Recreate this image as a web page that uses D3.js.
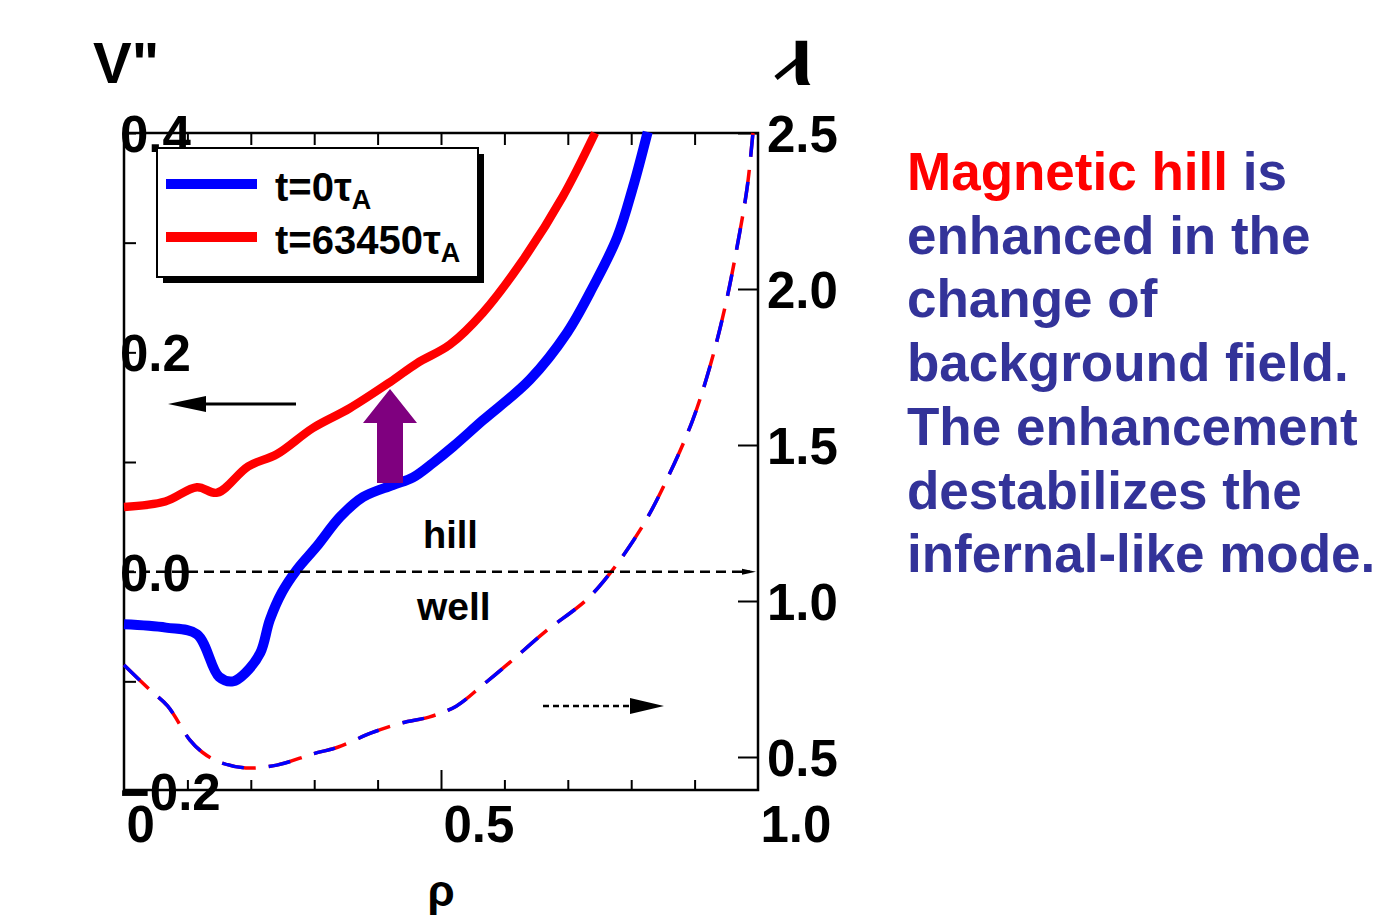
<!DOCTYPE html>
<html>
<head>
<meta charset="utf-8">
<script src="https://cdn.jsdelivr.net/npm/d3@7"></script>
<style>
  body { margin: 0; background: #fff; }
  text { font-family: "Liberation Sans", Arial, sans-serif; font-weight: bold; }
</style>
</head>
<body>
<script>
// V'' at t=0 (blue) and t=63450 (red), rho on x
const rhoBlue = [0, 0.066, 0.115, 0.150, 0.172, 0.192, 0.215, 0.230, 0.249, 0.273, 0.304, 0.341, 0.377, 0.424, 0.456, 0.487, 0.519, 0.566, 0.640, 0.699, 0.740, 0.778, 0.803, 0.826];
const vBlue   = [-0.048, -0.051, -0.057, -0.096, -0.100, -0.092, -0.074, -0.044, -0.019, 0.002, 0.023, 0.050, 0.068, 0.079, 0.086, 0.099, 0.114, 0.138, 0.175, 0.218, 0.260, 0.305, 0.351, 0.401];

const rhoRed = [0, 0.065, 0.115, 0.147, 0.196, 0.241, 0.298, 0.356, 0.420, 0.462, 0.514, 0.566, 0.629, 0.692, 0.743];
const vRed   = [0.059, 0.064, 0.077, 0.072, 0.096, 0.107, 0.131, 0.149, 0.173, 0.190, 0.207, 0.236, 0.284, 0.342, 0.400];

// rotational transform (both times overlap)
const rhoIota = [0, 0.041, 0.069, 0.104, 0.123, 0.150, 0.192, 0.241, 0.298, 0.338, 0.390, 0.438, 0.481, 0.524, 0.566, 0.609, 0.664, 0.729, 0.767, 0.819, 0.861, 0.897, 0.924, 0.948, 0.967, 0.983, 0.992];
const iota    = [0.795, 0.715, 0.663, 0.554, 0.516, 0.484, 0.465, 0.474, 0.510, 0.532, 0.577, 0.609, 0.628, 0.663, 0.731, 0.804, 0.901, 1.003, 1.090, 1.244, 1.410, 1.580, 1.750, 1.942, 2.135, 2.327, 2.500];

const leftLabels = [0.4, 0.2, 0.0, -0.2];
const leftMinor = [-0.1, 0.1, 0.3];
const rightLabels = [0.5, 1.0, 1.5, 2.0, 2.5];
const bottomLabels = [0, 0.5, 1.0];
const xMinor = [0.1, 0.2, 0.3, 0.4, 0.5, 0.6, 0.7, 0.8, 0.9];

const legendNames = ["t=0", "t=63450"];
const legendColors = ["#0000ff", "#ff0000"];

const noteLines = [
  [["Magnetic hill", "#ff0000"], [" is", "#333399"]],
  [["enhanced in the", "#333399"]],
  [["change of", "#333399"]],
  [["background field.", "#333399"]],
  [["The enhancement", "#333399"]],
  [["destabilizes the", "#333399"]],
  [["infernal-like mode.", "#333399"]]
];

const W = 1398, H = 919;
const L = 124, R = 758, T = 133, B = 790;

const svg = d3.select("body").append("svg")
  .attr("width", W).attr("height", H);

const x = d3.scaleLinear().domain([0, 1]).range([L, R]);
const yL = d3.scaleLinear().domain([-0.2, 0.4]).range([791, T]);
const yR = d3.scaleLinear().domain([0.5, 2.5]).range([757, T]);

// frame
svg.append("rect").attr("x", L).attr("y", T).attr("width", R - L).attr("height", B - T)
  .attr("fill", "none").attr("stroke", "#000").attr("stroke-width", 2.5);

// ticks
svg.append("g").attr("transform", "translate(" + L + ",0)")
  .call(d3.axisRight(yL).tickValues(leftMinor.concat(leftLabels)).tickSize(12).tickFormat(""))
  .call(g => g.select(".domain").remove());
svg.append("g").attr("transform", "translate(0," + T + ")")
  .call(d3.axisBottom(x).tickValues(xMinor).tickSize(12).tickFormat(""))
  .call(g => g.select(".domain").remove());
svg.append("g").attr("transform", "translate(0," + B + ")")
  .call(d3.axisTop(x).tickValues(xMinor).tickSize(10).tickFormat(""))
  .call(g => g.select(".domain").remove())
  .selectAll(".tick line").attr("y2", d => Math.abs(d - 0.5) < 1e-9 ? -20 : -10);
svg.append("g").attr("transform", "translate(" + R + ",0)")
  .call(d3.axisLeft(yR).tickValues(rightLabels).tickSize(20).tickFormat(""))
  .call(g => g.select(".domain").remove());
svg.selectAll(".tick line").attr("stroke", "#000").attr("stroke-width", 2);

// curves
const line = d3.line().curve(d3.curveCatmullRom.alpha(0.5));
const ptsBlue = rhoBlue.map((r, i) => [x(r), yL(vBlue[i])]);
const ptsRed = rhoRed.map((r, i) => [x(r), yL(vRed[i])]);
const ptsIota = rhoIota.map((r, i) => [x(r), yR(iota[i])]);

svg.append("path").attr("d", line(ptsIota)).attr("fill", "none")
  .attr("stroke", "#ff0000").attr("stroke-width", 3.5).attr("stroke-dasharray", "34,13");
svg.append("path").attr("d", line(ptsIota)).attr("fill", "none")
  .attr("stroke", "#0000ff").attr("stroke-width", 3.5).attr("stroke-dasharray", "22,25");

svg.append("path").attr("d", line(ptsRed)).attr("fill", "none")
  .attr("stroke", "#ff0000").attr("stroke-width", 8.5);
svg.append("path").attr("d", line(ptsBlue)).attr("fill", "none")
  .attr("stroke", "#0000ff").attr("stroke-width", 10);

// axis labels
svg.append("g").attr("transform", "translate(" + L + ",0)")
  .call(d3.axisRight(yL).tickValues(leftLabels).tickSize(0).tickPadding(-4).tickFormat(d3.format(".1f")))
  .call(g => g.select(".domain").remove())
  .selectAll("text").attr("font-size", 51).attr("fill", "#000")
  .attr("font-family", null).attr("dy", "0.36em");
svg.append("g").attr("transform", "translate(" + R + ",0)")
  .call(d3.axisRight(yR).tickValues(rightLabels).tickSize(0).tickPadding(9).tickFormat(d3.format(".1f")))
  .call(g => g.select(".domain").remove())
  .selectAll("text").attr("font-size", 51).attr("fill", "#000")
  .attr("font-family", null).attr("dy", "0.36em");
svg.append("g").attr("transform", "translate(0," + B + ")")
  .call(d3.axisBottom(x).tickValues(bottomLabels).tickSize(0).tickPadding(0)
    .tickFormat(d => d === 0 ? "0" : d3.format(".1f")(d)))
  .call(g => g.select(".domain").remove())
  .selectAll("text").attr("font-size", 51).attr("fill", "#000")
  .attr("font-family", null).attr("text-anchor", "start")
  .attr("x", 2).attr("y", 52).attr("dy", null);

// zero line
svg.append("line").attr("x1", L).attr("x2", R - 8).attr("y1", yL(0)).attr("y2", yL(0))
  .attr("stroke", "#000").attr("stroke-width", 2.5).attr("stroke-dasharray", "10,6");
svg.append("path").attr("d", d3.line()([[R - 16, yL(0) - 3], [R - 2, yL(0)], [R - 16, yL(0) + 3]]))
  .attr("fill", "#000");

// axis titles
svg.append("text").attr("x", 93).attr("y", 83).attr("font-size", 58).text("V\"");
svg.append("text").attr("x", 441).attr("y", 906).attr("font-size", 44)
  .attr("text-anchor", "middle").attr("font-weight", "normal")
  .attr("font-family", "DejaVu Sans").text("ρ");
svg.append("text").attr("x", 790).attr("y", 85).attr("font-size", 84)
  .attr("font-family", "DejaVu Serif").text("ι");
svg.append("line").attr("x1", 776).attr("y1", 78).attr("x2", 803).attr("y2", 56)
  .attr("stroke", "#000").attr("stroke-width", 5);

// hill / well
svg.append("text").attr("x", 423).attr("y", 548).attr("font-size", 38).text("hill");
svg.append("text").attr("x", 417).attr("y", 620).attr("font-size", 39).text("well");

// left arrow
svg.append("line").attr("x1", 296).attr("y1", 404).attr("x2", 205).attr("y2", 404)
  .attr("stroke", "#000").attr("stroke-width", 3);
svg.append("path").attr("d", d3.line()([[168, 404], [206, 396], [206, 412]])).attr("fill", "#000");

// dashed right arrow
svg.append("line").attr("x1", 543).attr("y1", 706).attr("x2", 632).attr("y2", 706)
  .attr("stroke", "#000").attr("stroke-width", 2.5).attr("stroke-dasharray", "6,4");
svg.append("path").attr("d", d3.line()([[664, 706], [630, 698], [630, 714]])).attr("fill", "#000");

// purple arrow
svg.append("path").attr("d", d3.line()([[377, 483], [377, 423], [363, 423], [390, 389], [417, 423], [403, 423], [403, 483]]))
  .attr("fill", "#7f007f");

// legend
const lg = svg.append("g");
lg.append("rect").attr("x", 163).attr("y", 154).attr("width", 321).attr("height", 129).attr("fill", "#000");
lg.append("rect").attr("x", 157).attr("y", 148).attr("width", 321).attr("height", 129)
  .attr("fill", "#fff").attr("stroke", "#000").attr("stroke-width", 2);
legendNames.forEach((n, i) => {
  const yy = 184 + i * 53;
  lg.append("line").attr("x1", 166).attr("x2", 257).attr("y1", yy).attr("y2", yy)
    .attr("stroke", legendColors[i]).attr("stroke-width", 10);
  const t = lg.append("text").attr("x", 275).attr("y", yy + 17).attr("font-size", 40);
  t.append("tspan").text(n + "τ");
  t.append("tspan").attr("font-size", 27).attr("dy", 8).text("A");
});

// note text
noteLines.forEach((parts, i) => {
  const t = svg.append("text").attr("x", 907).attr("y", 190 + i * 63.7).attr("font-size", 53);
  parts.forEach(p => t.append("tspan").attr("fill", p[1]).text(p[0]));
});
</script>
</body>
</html>
